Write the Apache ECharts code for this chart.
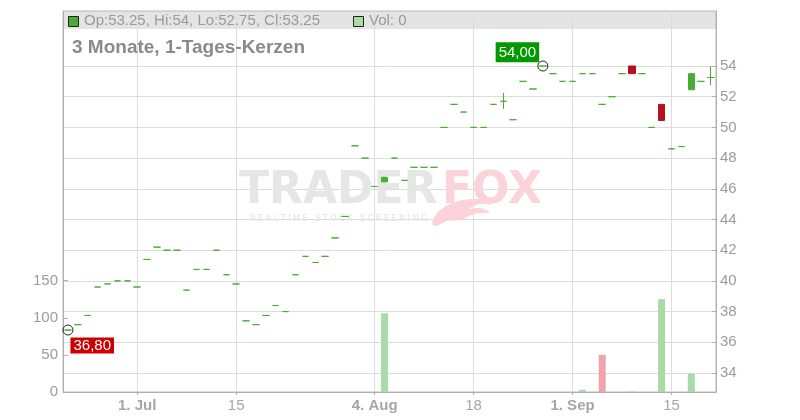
<!DOCTYPE html>
<html><head><meta charset="utf-8">
<script src="https://cdn.jsdelivr.net/npm/echarts@6/dist/echarts.min.js"></script>
<style>html,body{margin:0;padding:0;background:#fff}#c{width:800px;height:420px}</style>
</head><body><div id="c"></div>
<script>
// ---- data ----
const dates = [
 '2025-06-20','2025-06-23','2025-06-24','2025-06-25','2025-06-26','2025-06-27','2025-06-30',
 '2025-07-01','2025-07-02','2025-07-03','2025-07-04','2025-07-07','2025-07-08','2025-07-09','2025-07-10','2025-07-11',
 '2025-07-14','2025-07-15','2025-07-16','2025-07-17','2025-07-18','2025-07-21','2025-07-22','2025-07-23','2025-07-24','2025-07-25',
 '2025-07-28','2025-07-29','2025-07-30','2025-07-31','2025-08-01',
 '2025-08-04','2025-08-05','2025-08-06','2025-08-07','2025-08-08','2025-08-11','2025-08-12','2025-08-13','2025-08-14','2025-08-15',
 '2025-08-18','2025-08-19','2025-08-20','2025-08-21','2025-08-22','2025-08-25','2025-08-26','2025-08-27','2025-08-28','2025-08-29',
 '2025-09-01','2025-09-02','2025-09-03','2025-09-04','2025-09-05','2025-09-08','2025-09-09','2025-09-10','2025-09-11','2025-09-12',
 '2025-09-15','2025-09-16','2025-09-17','2025-09-18','2025-09-19'
];
const opens = [
 36.80,37.15,37.75,39.60,39.80,40.00,40.00,39.60,41.40,42.20,
 42.00,42.00,39.40,40.75,40.75,42.00,40.40,39.80,37.40,37.15,
 37.75,38.40,38.00,40.40,41.60,41.20,41.60,42.80,44.20,48.80,
 48.00,46.15,46.45,48.00,46.55,47.40,47.40,47.40,50.00,51.50,
 51.00,50.00,50.00,51.50,51.70,50.50,53.00,52.50,54.00,53.50,
 53.00,53.00,53.50,53.50,51.50,52.00,53.50,54.00,53.50,50.00,
 51.50,48.60,48.75,52.45,53.00,53.25
];
const closes = [
 36.80,37.15,37.75,39.60,39.80,40.00,40.00,39.60,41.40,42.20,
 42.00,42.00,39.40,40.75,40.75,42.00,40.40,39.80,37.40,37.15,
 37.75,38.40,38.00,40.40,41.60,41.20,41.60,42.80,44.20,48.80,
 48.00,46.15,46.75,48.00,46.55,47.40,47.40,47.40,50.00,51.50,
 51.00,50.00,50.00,51.50,51.70,50.50,53.00,52.50,54.00,53.50,
 53.00,53.00,53.50,53.50,51.50,52.00,53.50,53.50,53.50,50.00,
 50.45,48.60,48.75,53.50,53.00,53.25
];
const highs = [
 36.80,37.15,37.75,39.60,39.80,40.00,40.00,39.60,41.40,42.20,
 42.00,42.00,39.40,40.75,40.75,42.00,40.40,39.80,37.40,37.15,
 37.75,38.40,38.00,40.40,41.60,41.20,41.60,42.80,44.20,48.80,
 48.00,46.15,46.75,48.00,46.55,47.40,47.40,47.40,50.00,51.50,
 51.00,50.00,50.00,51.50,52.25,50.50,53.00,52.50,54.00,53.50,
 53.00,53.00,53.50,53.50,51.50,52.00,53.50,54.00,53.50,50.00,
 51.50,48.60,48.75,53.50,53.00,54.00
];
const lows = [
 36.80,37.15,37.75,39.60,39.80,40.00,40.00,39.60,41.40,42.20,
 42.00,42.00,39.40,40.75,40.75,42.00,40.40,39.80,37.40,37.15,
 37.75,38.40,38.00,40.40,41.60,41.20,41.60,42.80,44.20,48.80,
 48.00,46.15,46.45,48.00,46.55,47.40,47.40,47.40,50.00,51.50,
 51.00,50.00,50.00,51.50,51.20,50.50,53.00,52.50,54.00,53.50,
 53.00,53.00,53.50,53.50,51.50,52.00,53.50,53.50,53.50,50.00,
 50.45,48.60,48.75,52.45,53.00,52.75
];
const volumes = [
 0,0,0,0,0,0,0,0,0,0,
 0,0,0,0,0,0,0,0,0,0,
 0,0,0,0,0,0,0,0,0,0,
 0,0,106,0,0,0,0,0,0,0,
 0,0,0,0,0,0,0,0,0,0,
 0,0,3,0,50,0,0,1,0,0,
 125,0,0,25,0,0
];
const xTickDates = ['2025-07-01','2025-07-15','2025-08-04','2025-08-18','2025-09-01','2025-09-15'];
const xTickLabels = ['1. Jul','15','4. Aug','18','1. Sep','15'];
const priceTicks = [34,36,38,40,42,44,46,48,50,52,54];
const volumeTicks = [0,50,100,150];
const titleText = '3 Monate, 1-Tages-Kerzen';

// ---- build ----
const UP = '#48ad35', DOWN = '#b5131b';
const VUP = '#a9dba9', VDOWN = '#f0a3ac', VFLAT = '#cccccc';
const FONT = '"Liberation Sans", Arial, sans-serif';
const tickIdx = xTickDates.map(d => dates.indexOf(d));
const last = dates.length - 1;

const candleData = dates.map((d, i) => {
  const item = { value: [i, opens[i], closes[i], lows[i], highs[i]] };
  if (opens[i] === closes[i]) {
    item.itemStyle = { color: UP, color0: UP, borderColor: UP, borderColor0: UP, borderColorDoji: UP };
  }
  return item;
});
const volData = volumes.map((v, i) => {
  const prev = i > 0 ? closes[i - 1] : closes[i];
  const c = closes[i] > prev ? VUP : (closes[i] < prev ? VDOWN : VFLAT);
  return { value: [i, v === 0 ? '-' : v], itemStyle: { color: c } };
});
let minI = 0, maxI = 0;
closes.forEach((c, i) => { if (c < closes[minI]) minI = i; });
highs.forEach((h, i) => { if (h > highs[maxI]) maxI = i; });
const fmt = v => v.toFixed(2).replace('.', ',');

const chart = echarts.init(document.getElementById('c'), null, { renderer: 'canvas' });
const gridL = 63, gridR = 84, gridT = 11, gridB = 28;
const AX = '#b0b0b0', GRIDC = '#dcdcdc';
chart.setOption({
  animation: false,
  textStyle: { fontFamily: FONT },
  grid: { left: gridL, right: gridR, top: gridT, bottom: gridB, show: true, borderColor: '#b8b8b8', borderWidth: 1 },
  xAxis: {
    type: 'value', min: -0.5, max: last + 0.5,
    axisLine: { show: true, onZero: false, lineStyle: { color: AX } },
    axisTick: { show: true, customValues: tickIdx, length: 3, lineStyle: { color: AX } },
    axisLabel: {
      customValues: tickIdx, margin: 6, color: '#a6a6a6', fontSize: 15, fontFamily: FONT,
      formatter: v => { const k = tickIdx.indexOf(v); const t = xTickLabels[k] || ''; return t.indexOf('.') >= 0 ? '{b|' + t + '}' : t; },
      rich: { b: { fontWeight: 'bold', fontSize: 15, color: '#a6a6a6', fontFamily: FONT } }
    },
    splitLine: { show: true, lineStyle: { color: GRIDC } }
  },
  yAxis: [
    {
      type: 'value', position: 'right', min: 32.762, max: 57.583,
      axisLine: { show: true, onZero: false, lineStyle: { color: AX } },
      axisTick: { show: true, inside: true, length: 4, customValues: priceTicks, lineStyle: { color: AX } },
      axisLabel: { customValues: priceTicks, margin: 4, color: '#9c9c9c', fontSize: 15, fontFamily: FONT },
      splitLine: { show: true, lineStyle: { color: GRIDC } }
    },
    {
      type: 'value', position: 'left', min: 0, max: 513.3,
      axisLine: { show: true, onZero: false, lineStyle: { color: AX } },
      axisTick: { show: true, inside: true, length: 5, customValues: volumeTicks, lineStyle: { color: AX } },
      axisLabel: { customValues: volumeTicks, margin: 5, color: '#9c9c9c', fontSize: 15, fontFamily: FONT },
      splitLine: { show: false }
    }
  ],
  graphic: [
    { type: 'rect', z: -10, silent: true, shape: { x: gridL, y: gridT, width: 800 - gridL - gridR, height: 18 }, style: { fill: '#e4e4e4' } },
    { type: 'rect', z: 10, shape: { x: 68.5, y: 16.5, width: 10, height: 10 }, style: { fill: UP, stroke: '#222', lineWidth: 1 } },
    { type: 'text', z: 10, x: 84, y: 21, style: { text: 'Op:' + opens[last] + ', Hi:' + highs[last] + ', Lo:' + lows[last] + ', Cl:' + closes[last], font: '15px ' + FONT, fill: '#9a9a9a', verticalAlign: 'middle' } },
    { type: 'rect', z: 10, shape: { x: 353.5, y: 16.5, width: 10, height: 10 }, style: { fill: VUP, stroke: '#222', lineWidth: 1 } },
    { type: 'text', z: 10, x: 369, y: 21, style: { text: 'Vol: ' + volumes[last], font: '15px ' + FONT, fill: '#9a9a9a', verticalAlign: 'middle' } },
    { type: 'text', z: 10, x: 72, y: 48, style: { text: titleText, font: 'bold 19px ' + FONT, fill: '#8a8a8a', verticalAlign: 'middle' } },
    { type: 'text', z: 1, silent: true, x: 239, y: 192, style: { text: 'TRADER', font: 'bold 44px "DejaVu Sans"', fill: '#e6e6e6', verticalAlign: 'middle' } },
    { type: 'text', z: 1, silent: true, x: 442, y: 192, style: { text: 'FOX', font: 'bold 44px "DejaVu Sans"', fill: '#fcd3d8', verticalAlign: 'middle' } },
    { type: 'polygon', z: 1, silent: true, shape: { smooth: 0.3, points: [[432,224],[437,213],[446,206],[458,201],[472,199],[485,200],[493,204],[479,204],[469,209],[479,208],[490,212],[474,214],[461,220],[447,221],[436,226]] }, style: { fill: '#fcd3d8' } },
    { type: 'text', z: 1, silent: true, x: 250, y: 219, style: { text: 'R E A L T I M E   S T O C K   S C R E E N I N G', font: '8px "DejaVu Sans"', fill: '#e2e2e2', verticalAlign: 'middle' } }
  ],
  series: [
    {
      type: 'bar', xAxisIndex: 0, yAxisIndex: 1, barWidth: 7, data: volData, z: 2
    },
    {
      type: 'candlestick', xAxisIndex: 0, yAxisIndex: 0, barWidth: 7, z: 3,
      itemStyle: { color: UP, color0: DOWN, borderColor: UP, borderColor0: DOWN, borderColorDoji: UP, borderWidth: 1 },
      data: candleData,
      markPoint: {
        symbol: 'circle', symbolSize: 10,
        itemStyle: { color: 'rgba(0,0,0,0)', borderColor: '#222', borderWidth: 1 },
        data: [
          { coord: [minI, closes[minI]], value: closes[minI],
            label: { show: true, position: [8, 13], formatter: p => fmt(p.value), color: '#fff', fontSize: 15, fontFamily: FONT, backgroundColor: '#cc0000', padding: [1, 3, 0, 3], lineHeight: 15 } },
          { coord: [maxI, highs[maxI]], value: highs[maxI],
            label: { show: true, position: [-41.7, -18.3], formatter: p => fmt(p.value), color: '#fff', fontSize: 15, fontFamily: FONT, backgroundColor: '#009a00', padding: [3, 3, 2, 3], lineHeight: 15 } }
        ]
      }
    }
  ]
});
</script></body></html>
